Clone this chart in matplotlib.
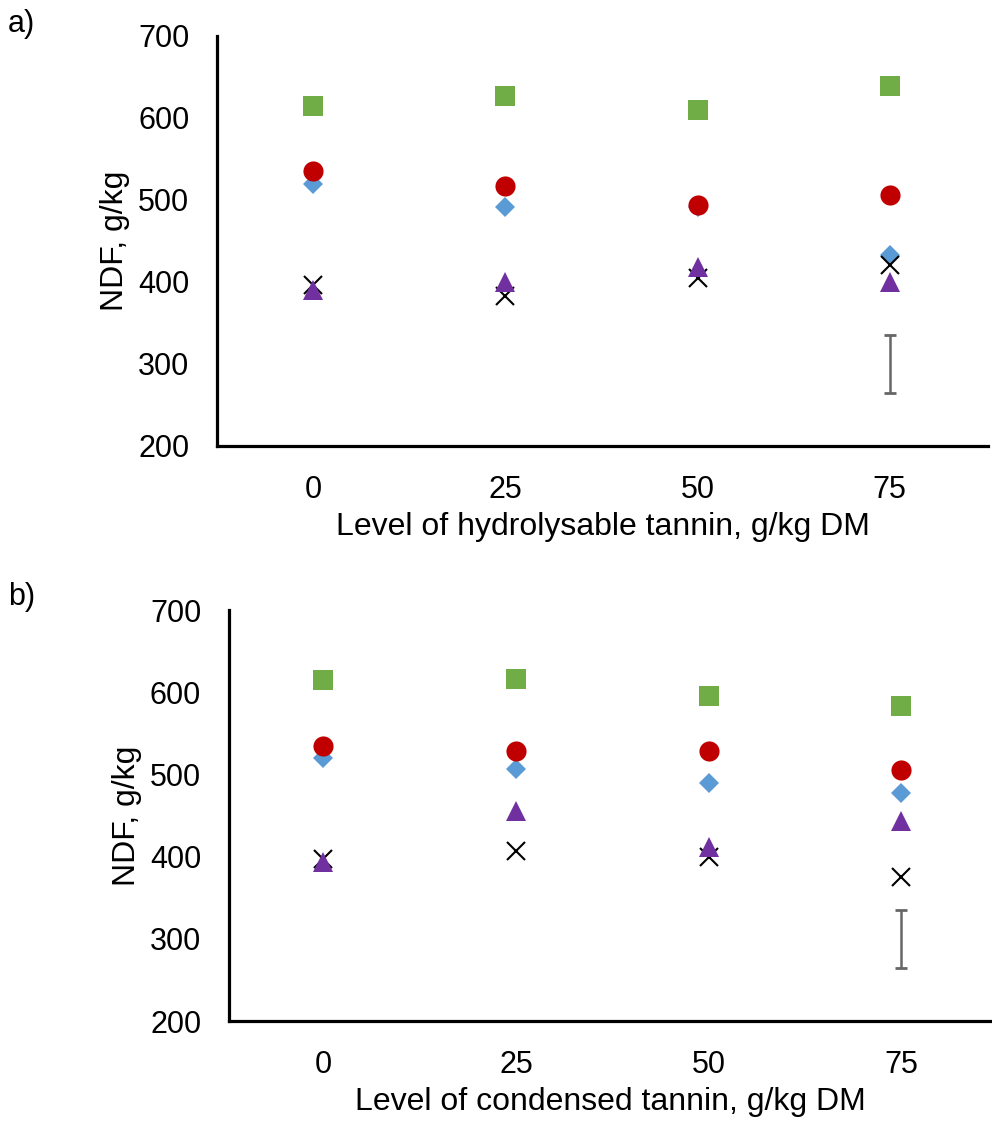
import matplotlib.pyplot as plt

plt.rcParams['font.family'] = ['Liberation Sans', 'DejaVu Sans']

# === DATA ===
levels = ["0", "25", "50", "75"]

# panel a) hydrolysable tannin
a_diamond = [520, 492, 491, 433]
a_square = [614, 627, 610, 639]
a_circle = [535, 517, 494, 506]
a_cross = [396, 383, 405, 421]
a_triangle = [390, 400, 418, 400]

# panel b) condensed tannin
b_diamond = [520, 506, 489, 478]
b_square = [615, 616, 595, 583]
b_circle = [535, 528, 529, 505]
b_cross = [397, 407, 399, 375]
b_triangle = [393, 455, 412, 443]

# pooled SEM bar drawn at the last level
sem_center = 300
sem_half = 35

xlabels = ["Level of hydrolysable tannin, g/kg DM",
           "Level of condensed tannin, g/kg DM"]
panel_tags = ["a)", "b)"]

fig = plt.figure(figsize=(9.92, 11.22), dpi=100)
ax_a = fig.add_axes([0.2188, 0.6025, 0.777, 0.3655])
ax_b = fig.add_axes([0.2308, 0.0900, 0.769, 0.3663])

panels = [
    (ax_a, a_diamond, a_square, a_circle, a_cross, a_triangle, (-0.5, 3.51)),
    (ax_b, b_diamond, b_square, b_circle, b_cross, b_triangle, (-0.49, 3.47)),
]

x = list(range(len(levels)))

for i, (ax, dia, sq, cir, crs, tri, xl) in enumerate(panels):
    ax.plot(x, dia, linestyle='none', marker='D', markersize=10, color='#5B9BD5', markeredgewidth=0)
    ax.plot(x, sq, linestyle='none', marker='s', markersize=14, color='#70AD47', markeredgewidth=0)
    ax.plot(x, cir, linestyle='none', marker='o', markersize=14.5, color='#C00000', markeredgewidth=0)
    ax.plot(x, crs, linestyle='none', marker='x', markersize=13, color='black', markeredgewidth=1.5)
    ax.plot(x, tri, linestyle='none', marker='^', markersize=14, color='#7030A0', markeredgewidth=0)
    ax.errorbar([x[-1]], [sem_center], yerr=[sem_half], fmt='none', ecolor='#666666',
                elinewidth=1.8, capsize=4.5, capthick=2)

    ax.set_xlim(*xl)
    ax.set_ylim(200, 700)
    ax.set_yticks([200, 300, 400, 500, 600, 700])
    ax.set_xticks(x)
    ax.set_xticklabels(levels)
    ax.tick_params(axis='both', length=0, labelsize=22)
    ax.tick_params(axis='y', pad=20)
    ax.tick_params(axis='x', pad=21)
    for s in ['top', 'right']:
        ax.spines[s].set_visible(False)
    for s in ['left', 'bottom']:
        ax.spines[s].set_linewidth(2.3)
    ax.set_xlabel(xlabels[i], fontsize=23, labelpad=5)
    ax.set_ylabel("NDF, g/kg", fontsize=23, labelpad=6)

fig.text(0.008, 0.992, panel_tags[0], fontsize=22, va='top')
fig.text(0.008, 0.481, panel_tags[1], fontsize=22, va='top')

fig.savefig("out.png", dpi=100)
